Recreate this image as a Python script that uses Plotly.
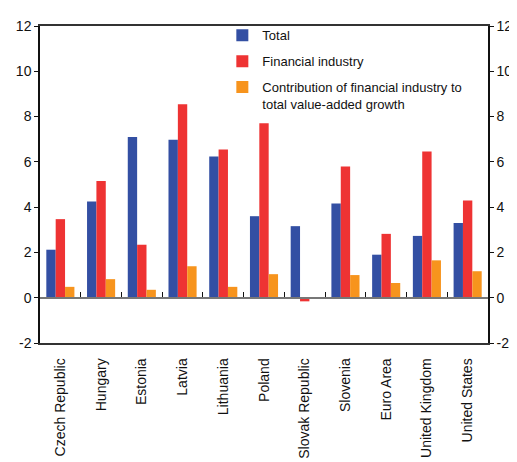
import plotly.graph_objects as go

categories = ["Czech Republic", "Hungary", "Estonia", "Latvia", "Lithuania", "Poland",
              "Slovak Republic", "Slovenia", "Euro Area", "United Kingdom", "United States"]
total = [2.12, 4.25, 7.1, 6.98, 6.24, 3.6, 3.16, 4.16, 1.9, 2.73, 3.3]
financial = [3.47, 5.16, 2.34, 8.54, 6.55, 7.7, -0.16, 5.8, 2.82, 6.46, 4.29]
contribution = [0.48, 0.82, 0.35, 1.39, 0.48, 1.04, -0.02, 1.0, 0.65, 1.65, 1.17]
y_ticks = [-2, 0, 2, 4, 6, 8, 10, 12]
y_tick_labels = ["-2", "0", "2", "4", "6", "8", "10", "12"]

series_names = ["Total", "Financial industry",
                "Contribution of financial industry to<br>total value-added growth"]
colors = ["#334FA3", "#EE3333", "#F7941D"]

fig = go.Figure()
for i, (name, vals) in enumerate(zip(series_names, [total, financial, contribution])):
    fig.add_trace(go.Bar(x=categories, y=vals, name=name, marker_color=colors[i],
                         marker_line_width=0, legendgroup=str(i)))

# invisible helper trace for the zero-line axis and right axis
fig.add_trace(go.Scatter(x=categories, y=total, xaxis="x2", yaxis="y2", mode="markers",
                         marker=dict(opacity=0), showlegend=False, hoverinfo="skip"))

font = "Arial"
yax = dict(range=[-2, 12], tickmode="array", tickvals=y_ticks, ticktext=y_tick_labels,
           showline=True, linecolor="#111", linewidth=1.5, ticks="outside", ticklen=4,
           tickcolor="#111", showgrid=False, zeroline=False, tickfont=dict(size=14),
           automargin=False)
# page body has an 8px default margin, so the figure is sized to fit inside the window
fig.update_layout(
    width=509, height=454,
    margin=dict(l=32, r=29, t=12, b=119),
    plot_bgcolor="white", paper_bgcolor="white",
    barmode="group", bargap=0.31, bargroupgap=0,
    font=dict(family=font, size=14, color="#111"),
    showlegend=True,
    legend=dict(x=0.407, y=1.018, xanchor="left", yanchor="top", valign="top",
                bgcolor="rgba(0,0,0,0)", font=dict(size=13, color="#111"),
                itemwidth=30, tracegroupgap=6, traceorder="grouped"),
    xaxis=dict(type="category", categoryorder="array", categoryarray=categories,
               range=[-0.5, 10.5], showline=True, linecolor="#333", linewidth=1.5,
               mirror=True, ticks="", tickangle=-90, showgrid=False,
               ticklabelstandoff=8, tickfont=dict(size=14), automargin=False),
    xaxis2=dict(type="category", categoryorder="array", categoryarray=categories,
                range=[-0.5, 10.5], overlaying="x", matches="x", anchor="free",
                position=2/14, showline=True, linecolor="#777", linewidth=1.5,
                ticks="inside", tickson="boundaries", ticklen=5, tickcolor="#111",
                tickwidth=1.2, showticklabels=False, showgrid=False, automargin=False),
    yaxis=yax,
    yaxis2=dict(yax, overlaying="y", side="right", anchor="x", matches="y"),
)

fig.write_html("out.html")
